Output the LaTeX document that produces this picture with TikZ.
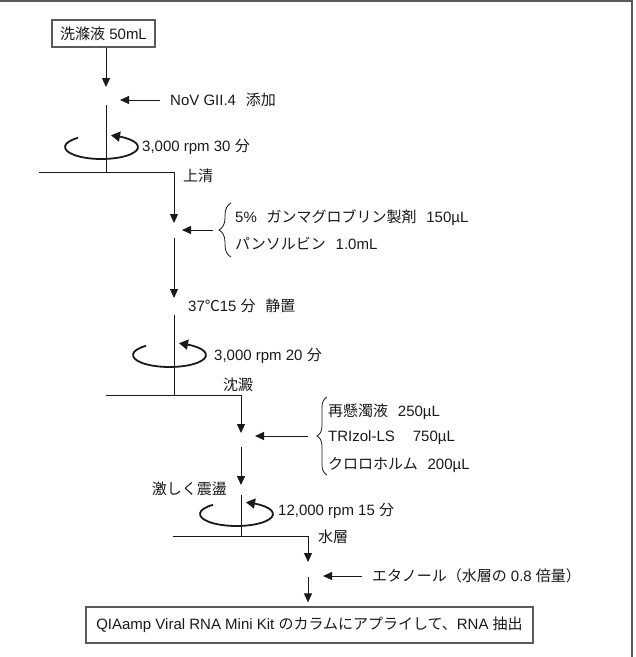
\documentclass[tikz,border=0pt]{standalone}
\usepackage{fontspec}
\setmainfont{Liberation Sans}
\newfontfamily\jpfont{Noto Sans CJK JP}
\usetikzlibrary{arrows.meta,bending,decorations.pathreplacing}
\usepackage{xcolor}
\definecolor{ink}{HTML}{1A1A1A}
\definecolor{edge}{HTML}{5A5A5A}
\newcommand{\jt}[1]{{\jpfont #1}}
\newcommand{\gap}{\hspace{0.65em}}

\tikzset{
  lbl/.style={font=\fontsize{15}{18}\selectfont, text=ink, inner sep=0pt, anchor=west},
  box/.style={draw=edge, line width=1.2pt, font=\fontsize{15}{18}\selectfont, text=ink, inner xsep=8pt},
  wire/.style={draw=ink, line width=1pt},
  flow/.style={wire, -{Triangle[length=9pt,width=8pt]}},
  spin/.style={draw=ink, line width=1.8pt, -{Triangle[length=9pt,width=10pt,bend]}},
  curly/.style={draw=ink, line width=0.8pt, decorate}
}

\begin{document}
\begin{tikzpicture}[x=1pt,y=-1pt]
  \useasboundingbox (0,0) rectangle (636,657);

  % frame
  \draw[draw=edge, line width=2pt] (0,1) -- (632,1) -- (632,657);

  % boxes
  \node[box, minimum width=103pt, minimum height=27pt] (wash) at (103.5,33.5) {\jt{洗滌液} 50mL};
  \node[box, minimum width=447pt, minimum height=36pt] (kit) at (309.5,625)
    {QIAamp Viral RNA Mini Kit \jt{のカラムにアプライして、}RNA \jt{抽出}};

  % labels
  \node[lbl] (nov) at (170,100) {NoV GII.4\gap\jt{添加}};
  \node[lbl] (rpm1) at (142,147) {3,000 rpm 30 \jt{分}};
  \node[lbl] (sup) at (183,176) {\jt{上清}};
  \node[lbl] (gam) at (235,218) {5\%\gap\jt{ガンマグロブリン製剤}\gap150µL};
  \node[lbl] (pan) at (235,244) {\jt{パンソルビン}\gap1.0mL};
  \node[lbl] (inc) at (188,306) {37\jt{℃}15 \jt{分}\gap\jt{静置}};
  \node[lbl] (rpm2) at (214,356) {3,000 rpm 20 \jt{分}};
  \node[lbl] (ppt) at (223,385) {\jt{沈澱}};
  \node[lbl] (res) at (328,412) {\jt{再懸濁液}\gap250µL};
  \node[lbl] (tri) at (328,438) {TRIzol-LS\hspace{1.2em}750µL};
  \node[lbl] (chl) at (328,465) {\jt{クロロホルム}\gap200µL};
  \node[lbl, anchor=east] (vor) at (227,489) {\jt{激しく震盪}};
  \node[lbl] (rpm3) at (278,511) {12,000 rpm 15 \jt{分}};
  \node[lbl] (aq) at (318,537) {\jt{水層}};
  \node[lbl] (eth) at (372,576) {\jt{エタノール（水層の} 0.8 \jt{倍量）}};

  % junctions and splits
  \coordinate (j1) at (106,100);
  \coordinate (t1) at (106,172);
  \coordinate (s1w) at (39,172);
  \coordinate (s1e) at (174,172);
  \coordinate (j2) at (174,230);
  \coordinate (j3) at (174,306);
  \coordinate (t2) at (174,395);
  \coordinate (s2w) at (106,395);
  \coordinate (s2e) at (241,395);
  \coordinate (j4) at (241,436);
  \coordinate (j5) at (241,490);
  \coordinate (t3) at (241,536);
  \coordinate (s3w) at (173,536);
  \coordinate (s3e) at (308,536);
  \coordinate (j6) at (308,576);
  \coordinate (b1) at (219,230);
  \coordinate (b2) at (317,436);

  % braces
  \draw[curly, decoration={brace, amplitude=12pt}] (231,257) -- (231,203);
  \draw[curly, decoration={brace, amplitude=10pt}] (327,475) -- (327,397);

  % main flow
  \draw[flow, shorten >=13pt] (wash.south -| j1) -- (j1);
  \draw[flow, shorten <=10pt, shorten >=14pt] (nov.west) -- (j1);
  \draw[wire, shorten <=5pt] (j1) -- (t1);
  \draw[wire] (s1w) -- (s1e);
  \draw[flow, shorten >=7pt] (s1e) -- (j2);
  \draw[flow, shorten <=6pt, shorten >=8pt] (b1) -- (j2);
  \draw[flow, shorten <=8pt, shorten >=8pt] (j2) -- (j3);
  \draw[wire, shorten <=9pt] (j3) -- (t2);
  \draw[wire] (s2w) -- (s2e);
  \draw[flow, shorten >=3pt] (s2e) -- (j4);
  \draw[flow, shorten <=9pt, shorten >=14pt] (b2) -- (j4);
  \draw[flow, shorten <=11pt, shorten >=5pt] (j4) -- (j5);
  \draw[wire, shorten <=5pt] (j5) -- (t3);
  \draw[wire] (s3w) -- (s3e);
  \draw[flow, shorten >=14pt] (s3e) -- (j6);
  \draw[flow, shorten <=10pt, shorten >=15pt] (eth.west) -- (j6);
  \draw[flow, shorten <=1pt, shorten >=4pt] (j6) -- (kit.north -| j6);

  % centrifuge marks
  \foreach \cx/\cy in {101.5/147, 169.5/355, 236.5/514}
    \draw[spin] (\cx,\cy) ++(230:36.5 and 12)
      arc[start angle=230, end angle=-75, x radius=36.5, y radius=12];
\end{tikzpicture}
\end{document}
